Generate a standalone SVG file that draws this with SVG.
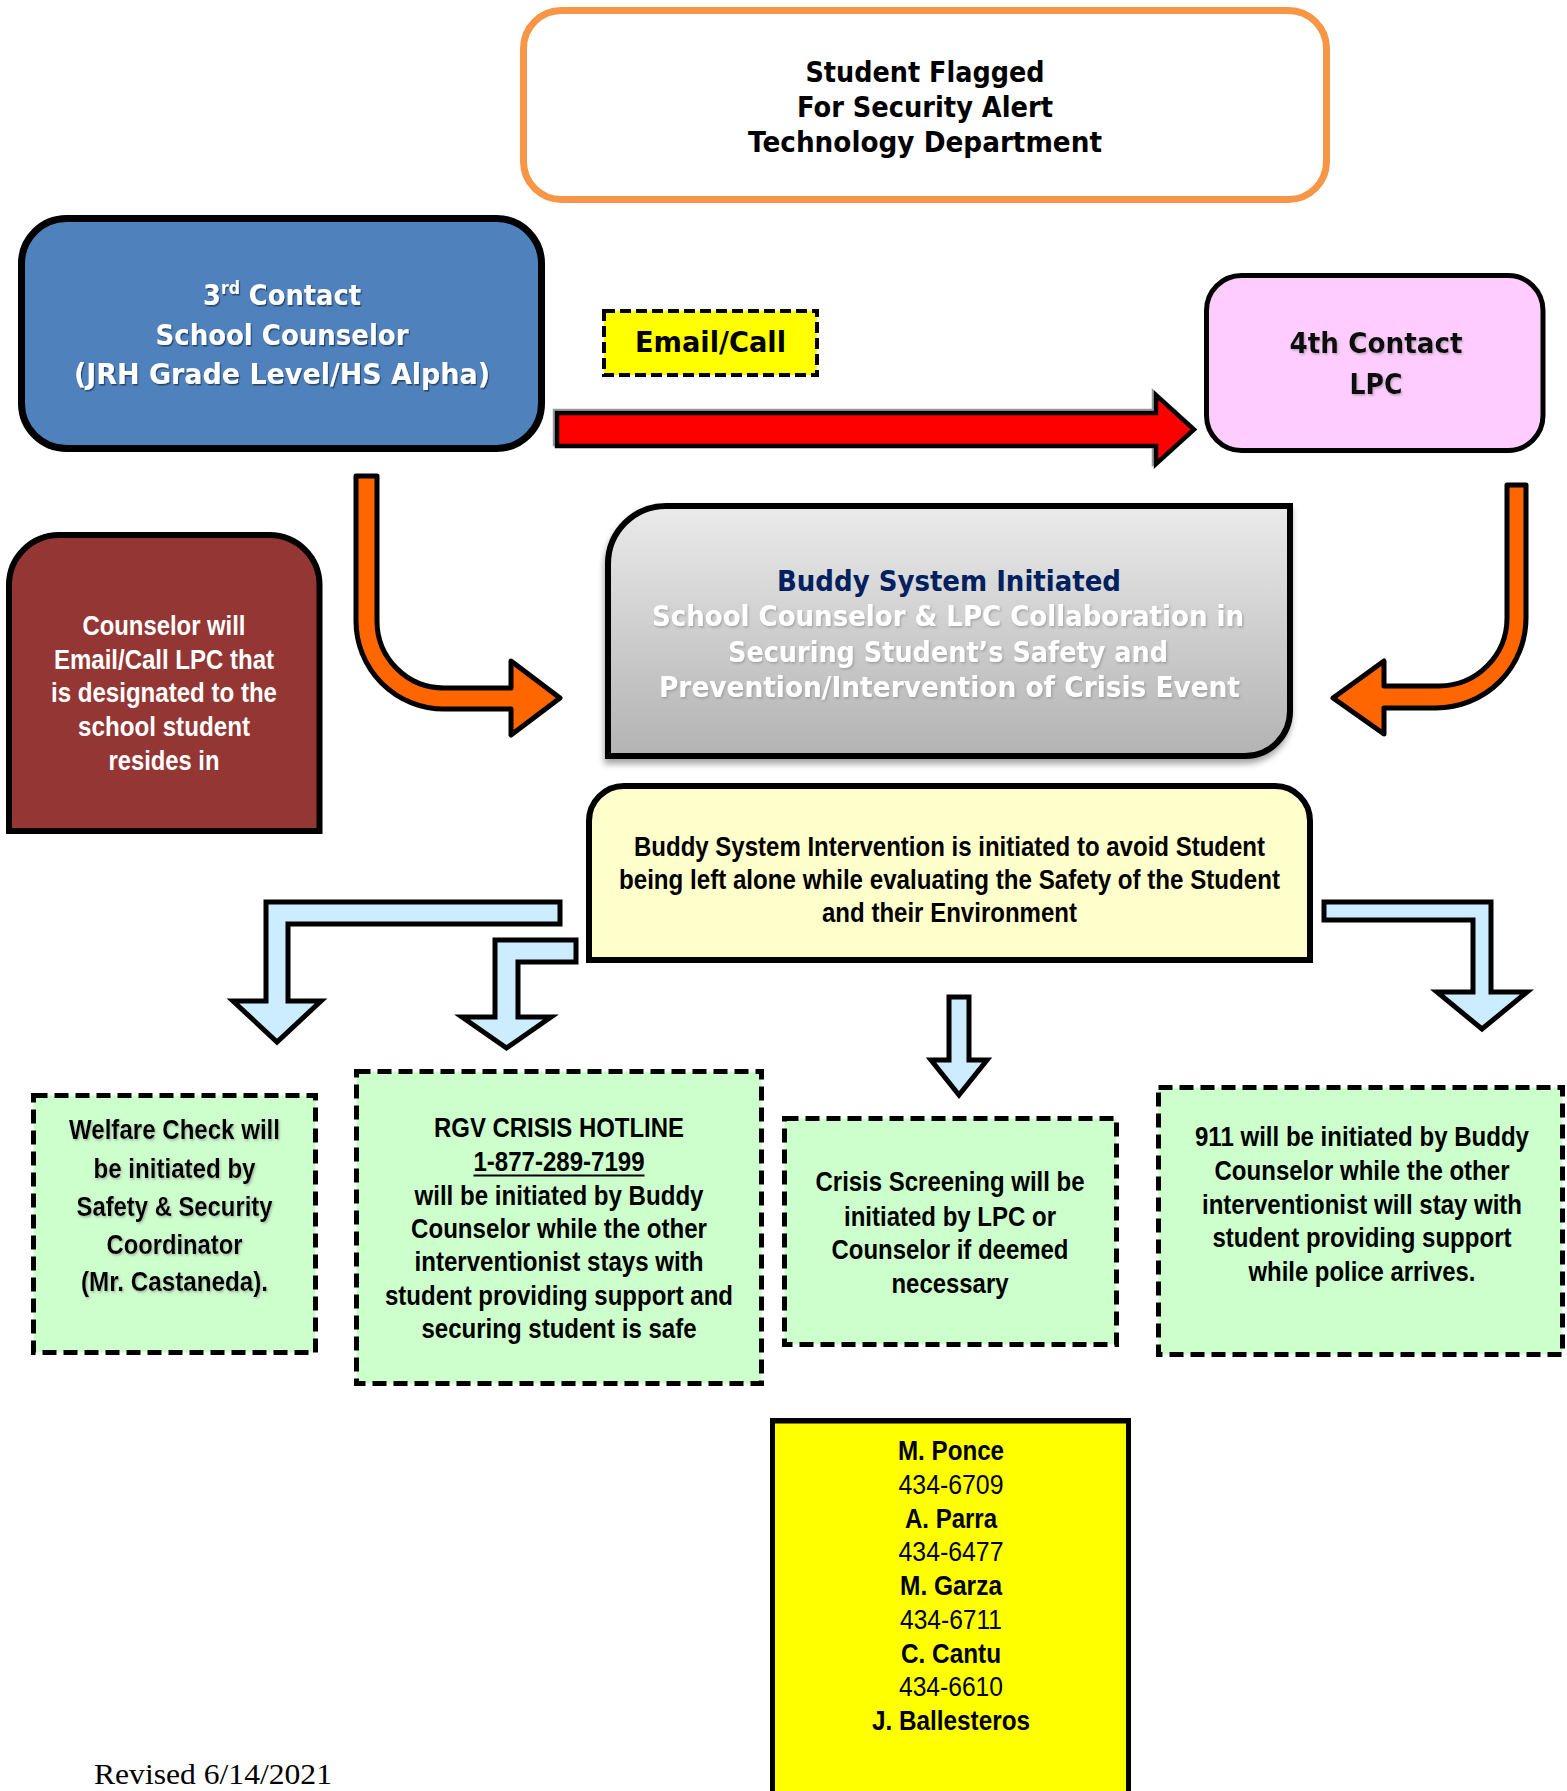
<svg xmlns="http://www.w3.org/2000/svg" width="1567" height="1791" viewBox="0 0 1567 1791">
<defs>
<linearGradient id="grayGrad" x1="0" y1="0" x2="0" y2="1">
<stop offset="0" stop-color="#EAEAEA"/>
<stop offset="1" stop-color="#B3B3B3"/>
</linearGradient>
<filter id="boxShadow" x="-5%" y="-5%" width="112%" height="120%">
<feDropShadow dx="-1" dy="5" stdDeviation="3" flood-color="#000" flood-opacity="0.35"/>
</filter>
<filter id="redShadow" x="-2%" y="-10%" width="104%" height="120%">
<feDropShadow dx="-2" dy="-2" stdDeviation="0.5" flood-color="#808080" flood-opacity="0.8"/>
</filter>
<filter id="txtShadow" x="-5%" y="-30%" width="110%" height="160%">
<feDropShadow dx="1.2" dy="1.6" stdDeviation="0.7" flood-color="#000" flood-opacity="0.45"/>
</filter>
<filter id="txtShadowLight" x="-5%" y="-30%" width="110%" height="160%">
<feDropShadow dx="1.2" dy="1.6" stdDeviation="0.8" flood-color="#7F7F7F" flood-opacity="0.55"/>
</filter>
</defs>
<style>
.v{font-family:"DejaVu Sans",Verdana,sans-serif;font-weight:bold;font-size:28px;text-anchor:middle}
.a{font-family:"Liberation Sans",Arial,sans-serif;font-weight:bold;font-size:27px;text-anchor:middle}
.r{font-weight:normal}
.w{fill:#FFFFFF}
.k{fill:#000000}
.green{fill:#CCFFCC;stroke:#000;stroke-width:5;stroke-dasharray:14 7}
.blueArrow{fill:#CCECFF;stroke:#000;stroke-width:5;stroke-linejoin:miter}
.orangeArrow{fill:#FF6600;stroke:#000;stroke-width:5;stroke-linejoin:round}
</style>

<rect width="1567" height="1791" fill="#FFFFFF"/>

<g id="connectors">
<path id="arrow-red" filter="url(#redShadow)" d="M557,413 L1156,413 L1156,395 L1194,429.5 L1156,464 L1156,446 L557,446 Z" fill="#FF0000" stroke="#000" stroke-width="4.5" stroke-linejoin="miter"/>
<path id="arrow-orange-left" class="orangeArrow" d="M356,476 L377,476 L377,621 A67,67 0 0 0 444,688 L511,688 L511,661 L560,698 L511,735 L511,709 L444,709 A88,88 0 0 1 356,621 Z"/>
<path id="arrow-orange-right" class="orangeArrow" d="M1507,485 L1526,485 L1526,618 A90,90 0 0 1 1436,708 L1384,708 L1384,734 L1333,698 L1384,661 L1384,686 L1439,686 A68,68 0 0 0 1507,618 Z"/>
<path id="arrow-welfare" class="blueArrow" d="M560,902 L266,902 L266,1001 L233,1001 L277,1042 L321,1001 L288,1001 L288,924 L560,924 Z"/>
<path id="arrow-rgv" class="blueArrow" d="M576,940 L495,940 L495,1017 L462,1017 L506.5,1048 L551,1017 L518,1017 L518,962 L576,962 Z"/>
<path id="arrow-crisis" class="blueArrow" d="M949,997 L969,997 L969,1060 L987,1060 L959,1095 L931,1060 L949,1060 Z"/>
<path id="arrow-911" class="blueArrow" d="M1324,902 L1491,902 L1491,992 L1527,992 L1482,1029 L1437,992 L1473,992 L1473,920 L1324,920 Z"/>
</g>

<g id="email-call-label">
<rect x="604" y="311" width="213" height="64" fill="#FFFF00" stroke="#000" stroke-width="4" stroke-dasharray="11 5"/>
<text class="v k" x="710.5" y="352" textLength="151" lengthAdjust="spacingAndGlyphs">Email/Call</text>
</g>

<g id="node-flagged">
<rect x="523.5" y="10.5" width="803" height="189" rx="38" ry="38" fill="#FFFFFF" stroke="#F79646" stroke-width="7"/>
<text class="v k" x="925" y="82" font-size="27.5" textLength="239" lengthAdjust="spacingAndGlyphs">Student Flagged</text>
<text class="v k" x="925" y="117" font-size="27.5" textLength="256" lengthAdjust="spacingAndGlyphs">For Security Alert</text>
<text class="v k" x="925" y="152" font-size="27.5" textLength="354" lengthAdjust="spacingAndGlyphs">Technology Department</text>
</g>

<g id="node-counselor">
<rect x="21.5" y="218.5" width="520" height="230" rx="45" ry="45" fill="#4F81BD" stroke="#000" stroke-width="7"/>
<g filter="url(#txtShadow)">
<text class="v w" transform="translate(282 305) scale(0.92 1)" x="0" y="0">3<tspan font-size="17" dy="-11">rd</tspan><tspan dy="11"> Contact</tspan></text>
<text class="v w" x="282" y="345" textLength="253" lengthAdjust="spacingAndGlyphs">School Counselor</text>
<text class="v w" x="282" y="384" textLength="416" lengthAdjust="spacingAndGlyphs">(JRH Grade Level/HS Alpha)</text>
</g>
</g>

<g id="node-lpc">
<rect x="1206.5" y="275.5" width="336.5" height="175" rx="35" ry="35" fill="#FFCCFF" stroke="#000" stroke-width="5"/>
<g filter="url(#txtShadowLight)">
<text class="v" fill="#111111" x="1376" y="353" textLength="173" lengthAdjust="spacingAndGlyphs">4th Contact</text>
<text class="v" fill="#111111" x="1376" y="394" textLength="53" lengthAdjust="spacingAndGlyphs">LPC</text>
</g>
</g>

<g id="node-counselor-note">
<path d="M9,831 L9,585 A50,50 0 0 1 59,535 L269.5,535 A50,50 0 0 1 319.5,585 L319.5,831 Z" fill="#943634" stroke="#000" stroke-width="6"/>
<text class="a w" x="164" y="634.5" textLength="163" lengthAdjust="spacingAndGlyphs">Counselor will</text>
<text class="a w" x="164" y="668.5" textLength="220" lengthAdjust="spacingAndGlyphs">Email/Call LPC that</text>
<text class="a w" x="164" y="702" textLength="226" lengthAdjust="spacingAndGlyphs">is designated to the</text>
<text class="a w" x="164" y="735.5" textLength="172" lengthAdjust="spacingAndGlyphs">school student</text>
<text class="a w" x="164" y="769.5" textLength="111" lengthAdjust="spacingAndGlyphs">resides in</text>
</g>

<g id="node-buddy-initiated">
<path filter="url(#boxShadow)" d="M608,756 L608,564 A58,58 0 0 1 666,506 L1290,506 L1290,711 A45,45 0 0 1 1245,756 Z" fill="url(#grayGrad)" stroke="#000" stroke-width="6"/>
<text class="v" fill="#002060" x="949" y="591" textLength="344" lengthAdjust="spacingAndGlyphs">Buddy System Initiated</text>
<g filter="url(#txtShadowLight)">
<text class="v w" x="948" y="626" textLength="592" lengthAdjust="spacingAndGlyphs">School Counselor &amp; LPC Collaboration in</text>
<text class="v w" x="948" y="661.5" textLength="440" lengthAdjust="spacingAndGlyphs">Securing Student’s Safety and</text>
<text class="v w" x="949.5" y="697" textLength="581" lengthAdjust="spacingAndGlyphs">Prevention/Intervention of Crisis Event</text>
</g>
</g>

<g id="node-intervention">
<path d="M589,960 L589,821 A35,35 0 0 1 624,786 L1275,786 A35,35 0 0 1 1310,821 L1310,960 Z" fill="#FFFFCC" stroke="#000" stroke-width="6"/>
<text class="a k" x="949.5" y="855.5" textLength="631" lengthAdjust="spacingAndGlyphs">Buddy System Intervention is initiated to avoid Student</text>
<text class="a k" x="949.5" y="888.5" textLength="661" lengthAdjust="spacingAndGlyphs">being left alone while evaluating the Safety of the Student</text>
<text class="a k" x="949.5" y="921.5" textLength="255" lengthAdjust="spacingAndGlyphs">and their Environment</text>
</g>

<g id="node-welfare">
<rect class="green" x="33.5" y="1095.5" width="282" height="257"/>
<g filter="url(#txtShadowLight)">
<text class="a k" x="174.5" y="1139" textLength="211" lengthAdjust="spacingAndGlyphs">Welfare Check will</text>
<text class="a k" x="174.5" y="1178" textLength="162" lengthAdjust="spacingAndGlyphs">be initiated by</text>
<text class="a k" x="174.5" y="1216" textLength="196" lengthAdjust="spacingAndGlyphs">Safety &amp; Security</text>
<text class="a k" x="174.5" y="1254" textLength="136" lengthAdjust="spacingAndGlyphs">Coordinator</text>
<text class="a k" x="174.5" y="1291" textLength="187" lengthAdjust="spacingAndGlyphs">(Mr. Castaneda).</text>
</g>
</g>

<g id="node-rgv">
<rect class="green" x="356.5" y="1071.5" width="405" height="312"/>
<text class="a k" x="559" y="1137" textLength="250" lengthAdjust="spacingAndGlyphs">RGV CRISIS HOTLINE</text>
<text class="a k" x="559" y="1171" textLength="171" lengthAdjust="spacingAndGlyphs">1-877-289-7199</text>
<line x1="473.5" y1="1175.5" x2="644.5" y2="1175.5" stroke="#000" stroke-width="2"/>
<text class="a k" x="559" y="1205" textLength="289" lengthAdjust="spacingAndGlyphs">will be initiated by Buddy</text>
<text class="a k" x="559" y="1238" textLength="296" lengthAdjust="spacingAndGlyphs">Counselor while the other</text>
<text class="a k" x="559" y="1271" textLength="289" lengthAdjust="spacingAndGlyphs">interventionist stays with</text>
<text class="a k" x="559" y="1305" textLength="348" lengthAdjust="spacingAndGlyphs">student providing support and</text>
<text class="a k" x="559" y="1338" textLength="275" lengthAdjust="spacingAndGlyphs">securing student is safe</text>
</g>

<g id="node-crisis-screening">
<rect class="green" x="784.5" y="1118.5" width="332" height="226"/>
<text class="a k" x="950" y="1191" textLength="269" lengthAdjust="spacingAndGlyphs">Crisis Screening will be</text>
<text class="a k" x="950" y="1225.5" textLength="212" lengthAdjust="spacingAndGlyphs">initiated by LPC or</text>
<text class="a k" x="950" y="1259" textLength="237" lengthAdjust="spacingAndGlyphs">Counselor if deemed</text>
<text class="a k" x="950" y="1293" textLength="117" lengthAdjust="spacingAndGlyphs">necessary</text>
</g>

<g id="node-911">
<rect class="green" x="1158.5" y="1087.5" width="404" height="267"/>
<text class="a k" x="1362" y="1146" textLength="334" lengthAdjust="spacingAndGlyphs">911 will be initiated by Buddy</text>
<text class="a k" x="1362" y="1180" textLength="295" lengthAdjust="spacingAndGlyphs">Counselor while the other</text>
<text class="a k" x="1362" y="1214" textLength="320" lengthAdjust="spacingAndGlyphs">interventionist will stay with</text>
<text class="a k" x="1362" y="1247" textLength="299" lengthAdjust="spacingAndGlyphs">student providing support</text>
<text class="a k" x="1362" y="1281" textLength="227" lengthAdjust="spacingAndGlyphs">while police arrives.</text>
</g>

<g id="node-contacts">
<rect x="772.5" y="1421" width="356" height="385" fill="#FFFF00" stroke="#000" stroke-width="5"/>
<line x1="770" y1="1419.5" x2="1131" y2="1419.5" stroke="#000" stroke-width="3"/>
<text class="a k" x="951" y="1460" textLength="106" lengthAdjust="spacingAndGlyphs">M. Ponce</text>
<text class="a k r" x="951" y="1494" textLength="105" lengthAdjust="spacingAndGlyphs">434-6709</text>
<text class="a k" x="951" y="1528" textLength="92" lengthAdjust="spacingAndGlyphs">A. Parra</text>
<text class="a k r" x="951" y="1561" textLength="105" lengthAdjust="spacingAndGlyphs">434-6477</text>
<text class="a k" x="951" y="1595" textLength="102" lengthAdjust="spacingAndGlyphs">M. Garza</text>
<text class="a k r" x="951" y="1629" textLength="102" lengthAdjust="spacingAndGlyphs">434-6711</text>
<text class="a k" x="951" y="1663" textLength="100" lengthAdjust="spacingAndGlyphs">C. Cantu</text>
<text class="a k r" x="951" y="1696" textLength="104" lengthAdjust="spacingAndGlyphs">434-6610</text>
<text class="a k" x="951" y="1730" textLength="158" lengthAdjust="spacingAndGlyphs">J. Ballesteros</text>
</g>

<g id="revised-note">
<text x="94" y="1784" font-family="'Liberation Serif','Times New Roman',serif" font-size="30" fill="#000" textLength="238" lengthAdjust="spacingAndGlyphs">Revised 6/14/2021</text>
</g>
</svg>
